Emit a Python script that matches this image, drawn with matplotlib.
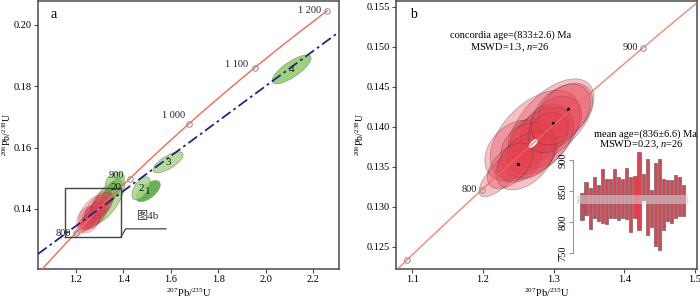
import numpy as np
import matplotlib
matplotlib.use('Agg')
import matplotlib.pyplot as plt

plt.rcParams['font.family'] = ['Liberation Serif', 'Noto Sans CJK SC']
plt.rcParams['mathtext.fontset'] = 'custom'
plt.rcParams['mathtext.rm'] = 'Liberation Serif'
plt.rcParams['mathtext.it'] = 'Liberation Serif:italic'

# Zerfallskonstanten (1/a)
L238 = 1.55125e-10
L235 = 9.8485e-10

# Konkordia-Markierungen (Ma)
ages_a = [800, 900, 1000, 1100, 1200]
labels_a = ['800', '900', '1 000', '1 100', '1 200']
ages_b = [750, 800, 900]
labels_b = ['', '800', '900']

# Diskordia (zwei Punkte, 207Pb/235U, 206Pb/238U)
disc_x = [1.04, 2.31]
disc_y = [0.1253, 0.1977]

# Gruene Ellipsen (Cluster + nummerierte Punkte)
green_x = [1.330, 1.365, 1.345, 1.370, 1.505, 1.475, 1.589, 2.110]
green_y = [0.1425, 0.1490, 0.1450, 0.1470, 0.1458, 0.1467, 0.1552, 0.1855]
green_sx = [0.075, 0.040, 0.035, 0.022, 0.0507, 0.038, 0.063, 0.082]
green_sy = [0.0075, 0.0030, 0.0040, 0.0030, 0.00342, 0.00375, 0.0034, 0.0047]
green_rho = [0.70, 0.30, 0.60, 0.40, 0.61, 0.55, 0.72, 0.78]
green_col = ['#a8d68a', '#a8d68a', '#5cb043', '#7cc05e', '#4aa637', '#a8d68a', '#a8d68a', '#8cc96a']
green_lab = ['', '', '', '20', '1', '2', '3', '4']

# Rote Ellipsen (Konkordia-Gruppe)
red_x = [1.298, 1.274, 1.2315, 1.2457, 1.2711, 1.2881, 1.2528, 1.3023,
         1.281, 1.2641, 1.3164, 1.2598, 1.2924, 1.310, 1.2386]
red_y = [0.14075, 0.1389, 0.1345, 0.1370, 0.1379, 0.13975, 0.13575, 0.1405,
         0.13825, 0.1370, 0.1420, 0.13575, 0.13925, 0.1415, 0.1351]
red_sx = [0.0591, 0.0636, 0.037, 0.043, 0.0354, 0.0344, 0.0308, 0.0372,
          0.0472, 0.039, 0.0389, 0.0413, 0.0284, 0.0420, 0.0323]
red_sy = [0.00522, 0.00562, 0.00327, 0.0038, 0.003125, 0.00304, 0.00272, 0.00329,
          0.00417, 0.00345, 0.00343, 0.00365, 0.00251, 0.00380, 0.00285]
red_rho = [0.55, 0.49, 0.79, 0.32, 0.0, 0.32, 0.32, 0.30,
           0.44, 0.18, 0.36, 0.43, 0.20, 0.40, 0.51]
dots_x = [1.299, 1.250, 1.320]
dots_y = [0.1404, 0.1353, 0.1422]

# Konkordia-Alter-Ellipse
conc_x, conc_y, conc_sx, conc_sy, conc_rho = 1.2713, 0.1379, 0.0065, 0.00057, 0.70

# Gewichtetes Mittel: Fehlerbalken (Ma)
bar_top = [846, 864, 855, 873, 860, 885, 869, 869, 885, 872, 869, 887, 873,
           874, 912, 877, 901, 851, 895, 901, 869, 867, 867, 875, 873, 859]
bar_bot = [803, 811, 788, 806, 802, 799, 797, 806, 807, 803, 806, 805, 784,
           806, 787, 835, 779, 792, 761, 754, 787, 802, 799, 806, 809, 810]
mean_age, mean_err = 836, 6.6


def concordia(t):
    t = np.asarray(t, dtype=float) * 1e6
    return np.exp(L235 * t) - 1, np.exp(L238 * t) - 1


def ellipse(cx, cy, sx, sy, rho):
    th = np.linspace(0, 2 * np.pi, 120)
    x = cx + sx * np.cos(th)
    y = cy + sy * (rho * np.cos(th) + np.sqrt(1 - rho ** 2) * np.sin(th))
    return x, y


def style(ax):
    for s in ax.spines.values():
        s.set_color('#4a4a4a')
        s.set_linewidth(1.1)
    ax.tick_params(direction='out', length=3, width=0.8, color='#4a4a4a',
                   labelsize=7.5, pad=1.5)


fig = plt.figure(figsize=(7, 3.01), dpi=100)
ax1 = fig.add_axes([38 / 700, 32 / 301, 301 / 700, 268 / 301])
ax2 = fig.add_axes([396 / 700, 32 / 301, 301 / 700, 268 / 301])

line_col = '#f26b4f'
red_col = '#e5404f'
xlab = r'$^{207}$Pb/$^{235}$U'
ylab = r'$^{206}$Pb/$^{238}$U'

# ---- a ----
for i in range(len(green_x)):
    ex, ey = ellipse(green_x[i], green_y[i], green_sx[i], green_sy[i], green_rho[i])
    ax1.fill(ex, ey, fc=green_col[i], ec='#6f9a58', lw=0.5, alpha=0.85, zorder=2)
    if green_lab[i]:
        ax1.text(green_x[i], green_y[i], green_lab[i], fontsize=8, ha='center',
                 va='center', color='#222222', zorder=6)
for i in range(len(red_x)):
    ex, ey = ellipse(red_x[i], red_y[i], red_sx[i], red_sy[i], red_rho[i])
    ax1.fill(ex, ey, fc=red_col, ec='#3a3a3a', lw=0.3, alpha=0.3, zorder=3)

cx, cy = concordia(np.linspace(700, 1200, 200))
ax1.plot(cx, cy, color=line_col, lw=1, zorder=4)
mx, my = concordia(ages_a)
ax1.plot(mx, my, 'o', ms=4, mfc='none', mec='#999999', mew=0.8, zorder=5)
offs_a = [(-5, 0), (-5, 3), (-4, 8), (-7, 3), (-6, 0)]
for x, y, lab, off in zip(mx, my, labels_a, offs_a):
    ax1.annotate(lab, (x, y), xytext=off, textcoords='offset pixels',
                 ha='right', va='center', fontsize=7.5, color='#222222', zorder=6)
ax1.plot(disc_x, disc_y, color='#23238a', lw=1.3, ls=(0, (6, 2, 1.5, 2)), zorder=5)

# Ausschnitt fuer Abb. 4b
ax1.plot([1.153, 1.39, 1.39, 1.153, 1.153], [0.1309, 0.1309, 0.1468, 0.1468, 0.1309],
         color='#444444', lw=1, zorder=5)
ax1.plot([1.39, 1.41, 1.58], [0.1309, 0.1335, 0.1335], color='#444444', lw=0.9, zorder=5)
ax1.text(1.50, 0.1378, '图4b', fontsize=8, ha='center', va='center', color='#333333')
ax1.text(0.04, 0.95, 'a', transform=ax1.transAxes, fontsize=10, va='center')

ax1.set_xlim(1.04, 2.31)
ax1.set_ylim(0.1204, 0.2078)
ax1.set_xticks([1.2, 1.4, 1.6, 1.8, 2.0, 2.2])
ax1.set_yticks([0.14, 0.16, 0.18, 0.20])
ax1.xaxis.set_major_formatter(plt.FuncFormatter(lambda v, p: f'{v:.1f}'))
ax1.yaxis.set_major_formatter(plt.FuncFormatter(lambda v, p: f'{v:.2f}'))
ax1.set_xlabel(xlab, fontsize=7.5, labelpad=2)
ax1.set_ylabel(ylab, fontsize=7, labelpad=0.5)
style(ax1)

# ---- b ----
for i in range(len(red_x)):
    ex, ey = ellipse(red_x[i], red_y[i], red_sx[i], red_sy[i], red_rho[i])
    ax2.fill(ex, ey, fc=red_col, ec='#2e2e2e', lw=0.6, alpha=0.33, zorder=2)
ex, ey = ellipse(conc_x, conc_y, conc_sx, conc_sy, conc_rho)
ax2.fill(ex, ey, fc='white', ec='none', zorder=3)
ax2.plot(dots_x, dots_y, 'o', ms=1.5, color='black', zorder=4)

cx, cy = concordia(np.linspace(700, 960, 200))
ax2.plot(cx, cy, color=line_col, lw=1, alpha=0.8, zorder=4)
mx, my = concordia(ages_b)
ax2.plot(mx, my, 'o', ms=4, mfc='none', mec='#999999', mew=0.8, zorder=5)
for x, y, lab in zip(mx, my, labels_b):
    if lab:
        ax2.annotate(lab, (x, y), xytext=(-5, 0), textcoords='offset pixels',
                     ha='right', va='center', fontsize=7.5, color='#222222')

ax2.text(1.2386, 0.1514, 'concordia age=(833±2.6) Ma', fontsize=7.5, ha='center', va='center')
ax2.text(1.2386, 0.1499, r'MSWD=1.3, $n$=26', fontsize=7.5, ha='center', va='center')
ax2.text(1.4296, 0.1391, 'mean age=(836±6.6) Ma', fontsize=7.5, ha='center', va='center')
ax2.text(1.4239, 0.1377, r'MSWD=0.23, $n$=26', fontsize=7.5, ha='center', va='center')
ax2.text(0.047, 0.95, 'b', transform=ax2.transAxes, fontsize=10, va='center')

ax2.set_xlim(1.077, 1.503)
ax2.set_ylim(0.1222, 0.1557)
ax2.set_xticks([1.1, 1.2, 1.3, 1.4, 1.5])
ax2.set_yticks([0.125, 0.130, 0.135, 0.140, 0.145, 0.150, 0.155])
ax2.xaxis.set_major_formatter(plt.FuncFormatter(lambda v, p: f'{v:.1f}'))
ax2.yaxis.set_major_formatter(plt.FuncFormatter(lambda v, p: f'{v:.3f}'))
ax2.set_xlabel(xlab, fontsize=7.5, labelpad=2)
ax2.set_ylabel(ylab, fontsize=7, labelpad=0)
style(ax2)

# ---- Einschub: gewichtetes Mittel ----
ax3 = fig.add_axes([573 / 700, 45 / 301, 117 / 700, 106 / 301])
ax3.patch.set_alpha(0)
idx = np.arange(len(bar_top))
ax3.bar(idx, np.array(bar_top) - np.array(bar_bot), bottom=bar_bot, width=0.78,
        color=red_col, edgecolor='#666666', lw=0.5, zorder=2)
ax3.fill_between([-1.2, 25.9], mean_age - mean_err, mean_age + mean_err,
                 color='#d4d4d4', alpha=0.55, lw=0, zorder=3)
ax3.plot([-1.2, 25.9], [mean_age, mean_age], color='#b0b0b0', lw=0.6, ls=':', zorder=4)
ax3.set_xlim(-2.2, 26.5)
ax3.set_ylim(745, 916)
for s in ['top', 'right', 'bottom']:
    ax3.spines[s].set_visible(False)
ax3.spines['left'].set_bounds(750, 900)
ax3.spines['left'].set_color('#999999')
ax3.set_xticks([])
ax3.set_yticks([750, 800, 850, 900])
ax3.tick_params(axis='y', direction='out', length=3, width=0.8, color='#999999',
                labelsize=7.5, pad=1)
plt.setp(ax3.get_yticklabels(), rotation=90, va='center')

fig.savefig('out.png', dpi=100)
